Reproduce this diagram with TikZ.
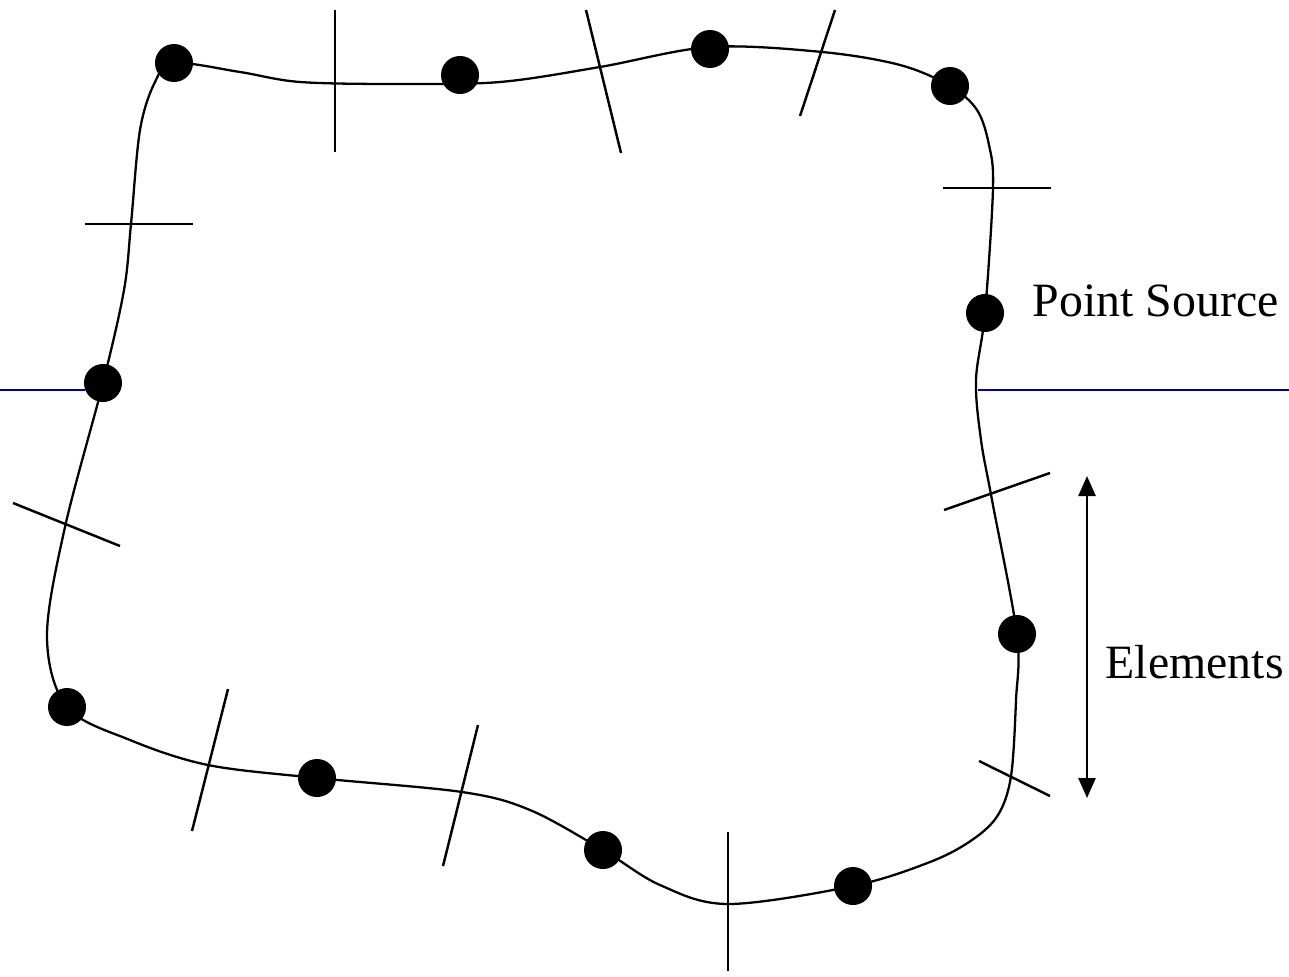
\documentclass[tikz,border=0pt]{standalone}
\usepackage{fontspec}
\setmainfont{Liberation Serif}
\usepackage{tikz}
\usetikzlibrary{arrows.meta, positioning, calc}
\definecolor{linkblue}{RGB}{0, 0, 160}
\definecolor{inkblack}{RGB}{0, 0, 0}

\begin{document}
\begin{tikzpicture}[x=0.01cm, y=-0.01cm,
    srcdot/.style={circle, fill=inkblack, inner sep=0pt, minimum size=0.38cm},
    cut/.style={draw=inkblack, line width=0.7pt},
    lbl/.style={font=\fontsize{13.6}{16}\selectfont, inner sep=0pt, anchor=base west}]
    \useasboundingbox (0,0) rectangle (1289,976);
    % blue guide lines
    \coordinate (gl1) at (0,390);    \coordinate (gl2) at (85,390);
    \coordinate (gr1) at (978,390);  \coordinate (gr2) at (1289,390);
    \draw[linkblue, line width=0.35pt] (gl1) -- (gl2);
    \draw[linkblue, line width=0.35pt] (gr1) -- (gr2);
    % boundary
    \draw[line width=0.65pt] plot[smooth cycle, tension=0.55] coordinates {
        (174,63) (240,72) (300,82) (400,84) (500,82) (600,67) (710,47)
        (822,52) (900,65) (950,86) (977,110) (989,145) (993,188) (985,313)
        (976,380) (981,440) (992,500) (1017,635) (1016,700) (1011,776)
        (998,815) (972,840) (930,862) (853,886) (728,904) (660,885) (603,850)
        (530,810) (462,792) (317,778) (208,765) (130,740) (67,707) (47,637)
        (65,527) (103,383) (124,290) (131,224) (140,130) (155,82)};
    % element ends
    \draw[cut] (335,10) -- (335,152);
    \draw[cut] (586,10) -- (621,153);
    \draw[cut] (835,10) -- (800,116);
    \draw[cut] (943,188) -- (1051,188);
    \draw[cut] (944,510) -- (1050,473);
    \draw[cut] (979,761) -- (1050,796);
    \draw[cut] (728,832) -- (728,971);
    \draw[cut] (478,725) -- (443,866);
    \draw[cut] (228,689) -- (192,831);
    \draw[cut] (13,503) -- (120,546);
    \draw[cut] (85,224) -- (193,224);
    % point sources
    \node[srcdot] (s1) at (174,63) {};
    \node[srcdot] (s2) at (460,75) {};
    \node[srcdot] (s3) at (710,49) {};
    \node[srcdot] (s4) at (950,86) {};
    \node[srcdot] (s5) at (985,313) {};
    \node[srcdot] (s6) at (1017,634) {};
    \node[srcdot] (s7) at (853,886) {};
    \node[srcdot] (s8) at (603,850) {};
    \node[srcdot] (s9) at (317,778) {};
    \node[srcdot] (s10) at (67,707) {};
    \node[srcdot] (s11) at (103,383) {};
    % labels
    \node[lbl] (src) at (1032,316) {Point Source};
    \node[lbl] (elem) at (1105,678) {Elements};
    \coordinate (eTop) at (1087,476);
    \coordinate (eBot) at (1087,798);
    \draw[line width=0.75pt, {Triangle[length=0.2cm, width=0.17cm]}-{Triangle[length=0.2cm, width=0.17cm]}] (eTop) -- (eBot);
\end{tikzpicture}
\end{document}
